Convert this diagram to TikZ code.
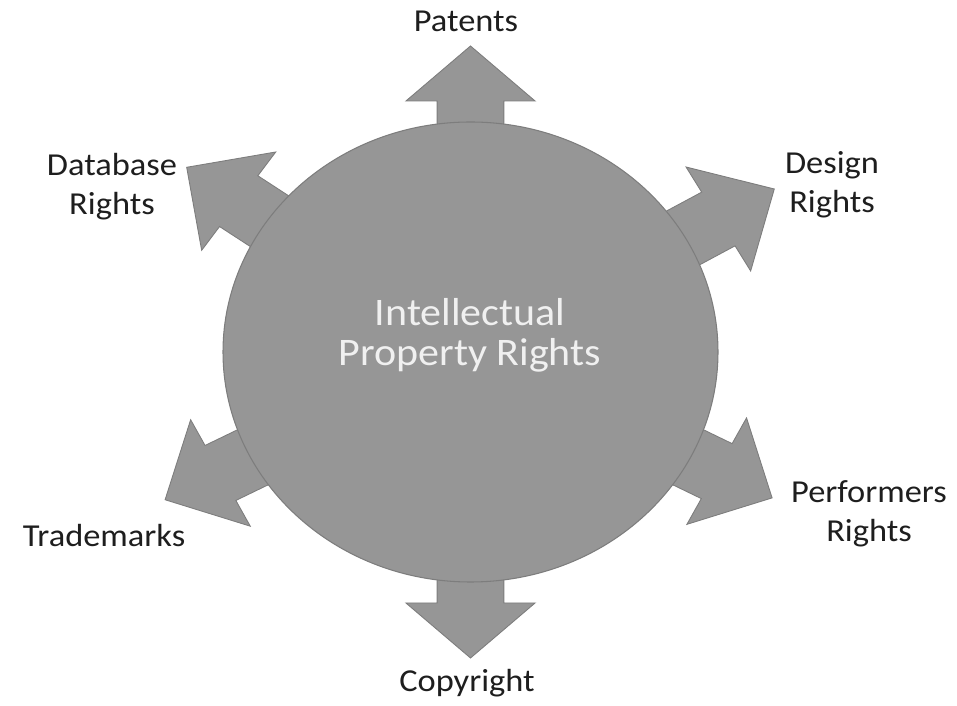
\documentclass[tikz,border=0pt]{standalone}
\usepackage{fontspec}
\setmainfont{Carlito}[FakeStretch=1.076]
\usepackage{tikz}
\definecolor{F}{RGB}{150, 150, 150}
\definecolor{E}{RGB}{125, 125, 125}
\definecolor{T}{RGB}{30, 30, 30}
\tikzset{
  rightslabel/.style={align=center, text=T, inner sep=0pt,
    font=\fontsize{18.2pt}{22.2pt}\selectfont},
  bigarrow/.style={fill=F, draw=E, line width=0.5pt}
}

\begin{document}
\begin{tikzpicture}[x=0.02cm, y=0.02cm]
  \useasboundingbox (0,0) rectangle (957,706);
  % block arrows, behind the circle
  \begin{scope}[shift={(470.5,354)}, xscale=1.076]
    \filldraw[bigarrow, rotate=90] (0,-31) -- (251,-31) -- (251,-60) -- (306,0) -- (251,60) -- (251,31) -- (0,31) -- cycle;
    \filldraw[bigarrow, rotate=270] (0,-31) -- (251,-31) -- (251,-60) -- (306,0) -- (251,60) -- (251,31) -- (0,31) -- cycle;
    \filldraw[bigarrow, rotate=145] (0,-31) -- (263,-31) -- (263,-60) -- (322,0) -- (263,60) -- (263,31) -- (0,31) -- cycle;
    \filldraw[bigarrow, rotate=30] (0,-31) -- (266,-31) -- (266,-60) -- (326,0) -- (266,60) -- (266,31) -- (0,31) -- cycle;
    \filldraw[bigarrow, rotate=-27.5] (0,-31) -- (258,-31) -- (258,-60) -- (316,0) -- (258,60) -- (258,31) -- (0,31) -- cycle;
    \filldraw[bigarrow, rotate=207.5] (0,-31) -- (262,-31) -- (262,-60) -- (320,0) -- (262,60) -- (262,31) -- (0,31) -- cycle;
  \end{scope}
  % the circle
  \filldraw[fill=F, draw=E, line width=0.6pt] (470.5,354) ellipse [x radius=247.5, y radius=230];
  \node[align=center, inner sep=0pt, text=white!94!black,
    font=\fontsize{22.2pt}{22.8pt}\selectfont] (ipr) at (470,370.5) {Intellectual\\Property Rights};
  % labels
  \node[rightslabel, anchor=base] (patents) at (466,674) {Patents};
  \node[rightslabel] (design) at (832,521) {Design\\Rights};
  \node[rightslabel] (performers) at (869,192) {Performers\\Rights};
  \node[rightslabel, anchor=base] (copyright) at (467,14) {Copyright};
  \node[rightslabel, anchor=base] (trademarks) at (104,159) {Trademarks};
  \node[rightslabel] (database) at (112,519) {Database\\Rights};
\end{tikzpicture}
\end{document}
